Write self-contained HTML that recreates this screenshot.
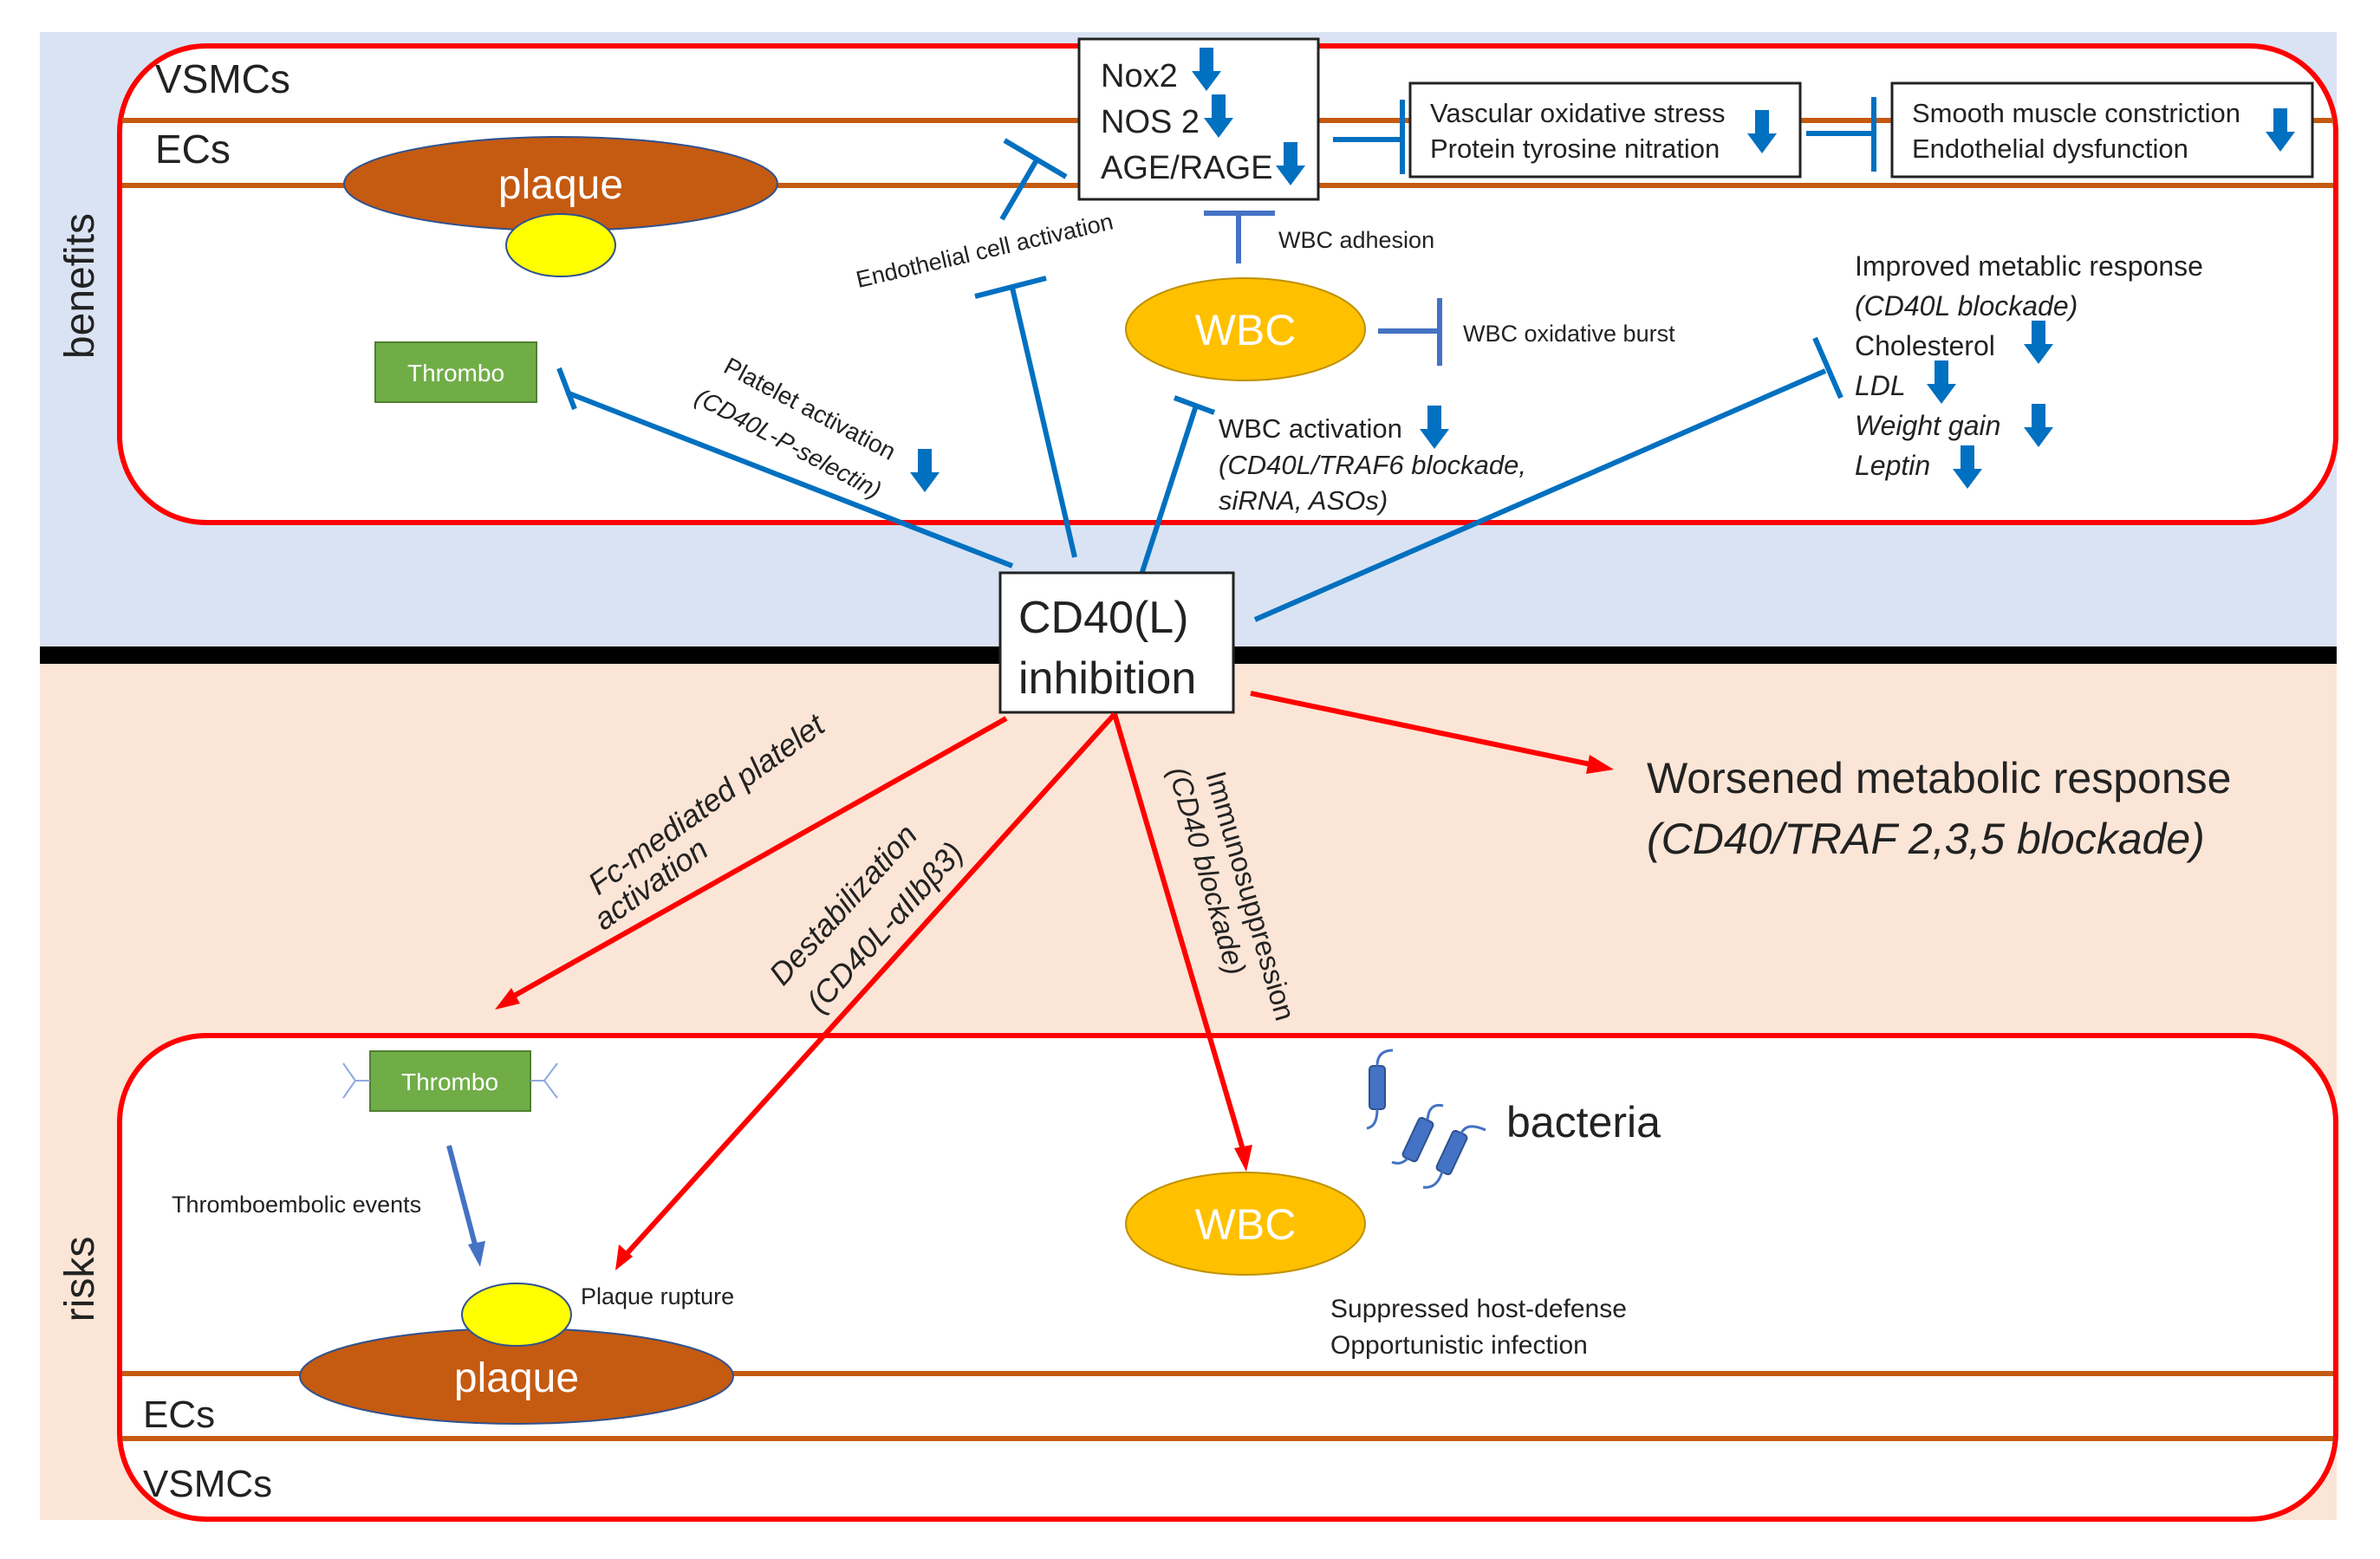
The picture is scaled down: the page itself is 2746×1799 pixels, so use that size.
<!DOCTYPE html>
<html><head><meta charset="utf-8"><style>
html,body{margin:0;padding:0;background:#fff}
svg{display:block}
text{font-family:"Liberation Sans Narrow","Liberation Sans",sans-serif;fill:#222}
.it{font-style:italic}
</style></head><body>
<svg width="2746" height="1799" viewBox="0 0 2746 1799" xmlns="http://www.w3.org/2000/svg">
<defs>
<g id="da"><polygon points="-8,0 8,0 8,27 17,27 0,50 -17,27 -8,27" fill="#0070C0"/></g>
</defs>
<rect x="46" y="37" width="2650" height="712" fill="#DAE3F3"/>
<rect x="46" y="764" width="2650" height="990" fill="#FBE5D6"/>
<rect x="46" y="746" width="2650" height="20" fill="#000"/>

<rect x="138" y="53" width="2557" height="550" rx="100" fill="#fff" stroke="#FF0000" stroke-width="6"/>
<line x1="141" y1="139" x2="2692" y2="139" stroke="#C55A11" stroke-width="6"/>
<line x1="141" y1="214" x2="2692" y2="214" stroke="#C55A11" stroke-width="6"/>
<text x="179" y="107" font-size="46">VSMCs</text>
<text x="179" y="188" font-size="46">ECs</text>
<ellipse cx="647" cy="212" rx="250" ry="54" fill="#C55A11" stroke="#2F528F" stroke-width="2"/>
<text x="647" y="229" font-size="48" text-anchor="middle" style="fill:#fff">plaque</text>
<ellipse cx="647" cy="283" rx="63" ry="36" fill="#FFFF00" stroke="#2F528F" stroke-width="2"/>
<text transform="translate(108,330) rotate(-90)" font-size="48" text-anchor="middle" style="font-family:'Liberation Sans',sans-serif">benefits</text>
<rect x="433" y="395" width="186" height="69" fill="#70AD47" stroke="#507E32" stroke-width="2"/>
<text x="526" y="440" font-size="28" text-anchor="middle" style="fill:#fff">Thrombo</text>

<rect x="1245" y="45" width="276" height="185" fill="#fff" stroke="#222" stroke-width="3"/>
<text x="1270" y="100" font-size="38">Nox2</text>
<text x="1270" y="153" font-size="38">NOS 2</text>
<text x="1270" y="206" font-size="38">AGE/RAGE</text>
<use href="#da" x="1392" y="55"/>
<use href="#da" x="1406" y="109"/>
<use href="#da" x="1489" y="164"/>

<rect x="1627" y="96" width="450" height="108" fill="#fff" stroke="#222" stroke-width="3"/>
<text x="1650" y="141" font-size="31">Vascular oxidative stress</text>
<text x="1650" y="182" font-size="31">Protein tyrosine nitration</text>
<use href="#da" x="2033" y="127"/>
<rect x="2183" y="96" width="485" height="108" fill="#fff" stroke="#222" stroke-width="3"/>
<text x="2206" y="141" font-size="31">Smooth muscle constriction</text>
<text x="2206" y="182" font-size="31">Endothelial dysfunction</text>
<use href="#da" x="2631" y="125"/>
<g stroke="#0070C0" stroke-width="6">
<line x1="1538" y1="161" x2="1618" y2="161"/><line x1="1618" y1="115" x2="1618" y2="201"/>
<line x1="2084" y1="154" x2="2162" y2="154"/><line x1="2162" y1="112" x2="2162" y2="198"/>
</g>

<g stroke="#4472C4" stroke-width="6">
<line x1="1389" y1="246" x2="1471" y2="246"/><line x1="1429" y1="246" x2="1429" y2="304"/>
<line x1="1590" y1="382" x2="1661" y2="382"/><line x1="1661" y1="344" x2="1661" y2="422"/>
</g>
<text x="1475" y="286" font-size="27">WBC adhesion</text>
<ellipse cx="1437" cy="380" rx="138" ry="59" fill="#FFC000" stroke="#BF9000" stroke-width="2"/>
<text x="1437" y="398" font-size="50" text-anchor="middle" style="fill:#fff">WBC</text>
<text x="1688" y="394" font-size="27">WBC oxidative burst</text>
<text x="1406" y="505" font-size="31">WBC activation</text>
<use href="#da" x="1655" y="468"/>
<text x="1406" y="547" font-size="31" class="it">(CD40L/TRAF6 blockade,</text>
<text x="1406" y="588" font-size="31" class="it">siRNA, ASOs)</text>

<text x="2140" y="318" font-size="32">Improved metablic response</text>
<text x="2140" y="364" font-size="32" class="it">(CD40L blockade)</text>
<text x="2140" y="410" font-size="32">Cholesterol</text>
<text x="2140" y="456" font-size="32" class="it">LDL</text>
<text x="2140" y="502" font-size="32" class="it">Weight gain</text>
<text x="2140" y="548" font-size="32" class="it">Leptin</text>
<use href="#da" x="2352" y="370"/>
<use href="#da" x="2240" y="416"/>
<use href="#da" x="2352" y="466"/>
<use href="#da" x="2270" y="514"/>

<g stroke="#0070C0" stroke-width="6" fill="none">
<line x1="1448" y1="715" x2="2106" y2="428"/><line x1="2094" y1="390" x2="2124" y2="459"/>
<line x1="1240" y1="643" x2="1168" y2="332"/><line x1="1125" y1="342" x2="1207" y2="321"/>
<line x1="1156" y1="253" x2="1197" y2="183"/><line x1="1159" y1="162" x2="1230" y2="204"/>
<line x1="1168" y1="653" x2="654" y2="453"/><line x1="645" y1="425" x2="663" y2="472"/>
<line x1="1316" y1="666" x2="1380" y2="468"/><line x1="1355" y1="459" x2="1401" y2="476"/>
</g>
<text transform="translate(1138,298) rotate(-13)" font-size="27" text-anchor="middle">Endothelial cell activation</text>
<text transform="translate(930,480) rotate(28)" text-anchor="middle" style="font-family:'Liberation Sans',sans-serif;font-size:28px">Platelet activation</text>
<text transform="translate(905,520) rotate(28)" text-anchor="middle" class="it" style="font-family:'Liberation Sans',sans-serif;font-size:28px">(CD40L-P-selectin)</text>
<use href="#da" x="1067" y="518"/>

<rect x="1154" y="661" width="269" height="161" fill="#fff" stroke="#222" stroke-width="3"/>
<text x="1175" y="730" font-size="52">CD40(L)</text>
<text x="1175" y="800" font-size="52">inhibition</text>

<rect x="138" y="1195" width="2557" height="558" rx="100" fill="#fff" stroke="#FF0000" stroke-width="6"/>
<line x1="141" y1="1585" x2="2692" y2="1585" stroke="#C55A11" stroke-width="6"/>
<line x1="141" y1="1660" x2="2692" y2="1660" stroke="#C55A11" stroke-width="6"/>
<text x="165" y="1647" font-size="44">ECs</text>
<text x="165" y="1727" font-size="44">VSMCs</text>
<text transform="translate(108,1476) rotate(-90)" font-size="48" text-anchor="middle" style="font-family:'Liberation Sans',sans-serif">risks</text>
<ellipse cx="596" cy="1588" rx="250" ry="55" fill="#C55A11" stroke="#2F528F" stroke-width="2"/>
<text x="596" y="1606" font-size="48" text-anchor="middle" style="fill:#fff">plaque</text>
<ellipse cx="596" cy="1517" rx="63" ry="36" fill="#FFFF00" stroke="#2F528F" stroke-width="2"/>
<text x="670" y="1505" font-size="27">Plaque rupture</text>
<rect x="427" y="1213" width="185" height="69" fill="#70AD47" stroke="#507E32" stroke-width="2"/>
<text x="519" y="1258" font-size="28" text-anchor="middle" style="fill:#fff">Thrombo</text>
<g stroke="#8FAADC" stroke-width="2" fill="none">
<path d="M427,1247 H410 M410,1247 L396,1227 M410,1247 L396,1267"/>
<path d="M612,1247 H628 M628,1247 L643,1227 M628,1247 L643,1267"/>
</g>
<line x1="518" y1="1322" x2="549" y2="1440" stroke="#4472C4" stroke-width="6"/>
<polygon points="540,1436 560,1432 554,1462" fill="#4472C4"/>
<text x="198" y="1399" font-size="27">Thromboembolic events</text>

<ellipse cx="1437" cy="1412" rx="138" ry="59" fill="#FFC000" stroke="#BF9000" stroke-width="2"/>
<text x="1437" y="1430" font-size="50" text-anchor="middle" style="fill:#fff">WBC</text>
<text x="1738" y="1312" font-size="50">bacteria</text>
<text x="1535" y="1520" font-size="30">Suppressed host-defense</text>
<text x="1535" y="1562" font-size="30">Opportunistic infection</text>
<g fill="#4472C4" stroke="#2F528F" stroke-width="2">
<rect x="1580" y="1230" width="18" height="50" rx="4"/>
<rect x="1627" y="1290" width="18" height="50" rx="4" transform="rotate(25 1636 1315)"/>
<rect x="1666" y="1305" width="18" height="50" rx="4" transform="rotate(25 1675 1330)"/>
</g>
<g stroke="#4472C4" stroke-width="3" fill="none">
<path d="M1589,1230 q0,-18 18,-18"/><path d="M1589,1280 q0,20 -12,22"/>
<path d="M1647,1292 q2,-20 18,-16"/><path d="M1624,1337 q-8,8 -18,4"/>
<path d="M1686,1308 q6,-14 28,-4"/><path d="M1664,1352 q-6,20 -22,18"/>
</g>

<g stroke="#FF0000" stroke-width="6" fill="none">
<line x1="1161" y1="829" x2="588" y2="1152"/>
<line x1="1286" y1="824" x2="722" y2="1448"/>
<line x1="1286" y1="824" x2="1435" y2="1330"/>
<line x1="1443" y1="800" x2="1835" y2="882"/>
</g>
<g fill="#FF0000">
<polygon points="571,1165 590,1140 600,1158"/>
<polygon points="710,1466 714,1436 730,1450"/>
<polygon points="1438,1352 1424,1325 1445,1321"/>
<polygon points="1862,888 1834,871 1830,893"/>
</g>
<text x="1900" y="915" font-size="50">Worsened metabolic response</text>
<text x="1900" y="985" font-size="50" class="it">(CD40/TRAF 2,3,5 blockade)</text>
<text transform="translate(822,938) rotate(-36)" text-anchor="middle" class="it" style="font-family:'Liberation Sans',sans-serif;font-size:36px">Fc-mediated platelet</text>
<text transform="translate(758,1030) rotate(-36)" text-anchor="middle" class="it" style="font-family:'Liberation Sans',sans-serif;font-size:36px">activation</text>
<text transform="translate(982,1052) rotate(-48)" text-anchor="middle" class="it" style="font-family:'Liberation Sans',sans-serif;font-size:36px">Destabilization</text>
<text transform="translate(1030,1078) rotate(-48)" text-anchor="middle" class="it" style="font-family:'Liberation Sans',sans-serif;font-size:36px">(CD40L-αIIbβ3)</text>
<text transform="translate(1432,1037) rotate(74)" text-anchor="middle" style="font-family:'Liberation Sans',sans-serif;font-size:33px">Immunosuppression</text>
<text transform="translate(1382,1008) rotate(74)" text-anchor="middle" class="it" style="font-family:'Liberation Sans',sans-serif;font-size:33px">(CD40 blockade)</text>
</svg>
</body></html>
